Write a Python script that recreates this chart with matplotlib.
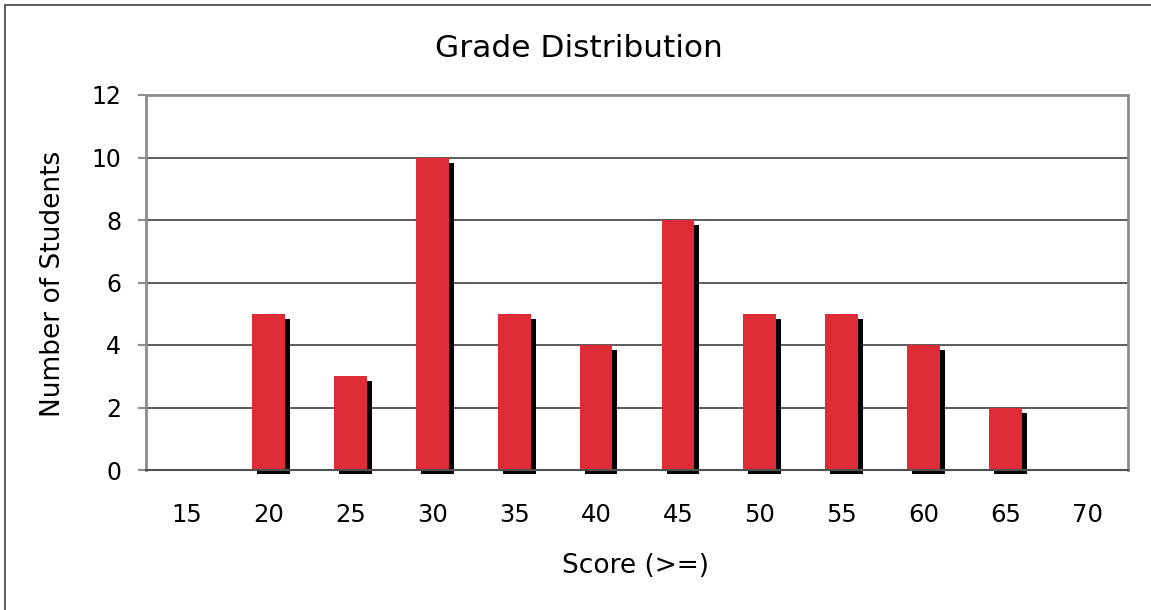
import matplotlib
matplotlib.use("Agg")
import matplotlib.pyplot as plt
import matplotlib.transforms as mtransforms
from matplotlib.patches import Rectangle

# Grade distribution data
scores = ["15", "20", "25", "30", "35", "40", "45", "50", "55", "60", "65", "70"]
students = [0, 5, 3, 10, 5, 4, 8, 5, 5, 4, 2, 0]
y_ticks = [0, 2, 4, 6, 8, 10, 12]

plt.rcParams["font.family"] = ["DejaVu Sans"]

W, H = 1151, 610
fig = plt.figure(figsize=(W / 100, H / 100), dpi=100)
fig.patch.set_facecolor("white")

# frame around the whole chart
fig.patches.append(Rectangle((5 / W, -0.1), 1.2, 1 - 5 / H + 0.1,
                             transform=fig.transFigure, fill=False,
                             edgecolor="#404040", linewidth=1.2))

ax = fig.add_axes([146 / W, 1 - 470 / H, (1128 - 146) / W, (470 - 95) / H])

x = list(range(len(scores)))
bar_w = 0.40

# drop shadow behind each bar, allowed to spill a little under the baseline
shadow = mtransforms.offset_copy(ax.transData, fig=fig, x=5, y=-5, units="dots")
shadow_clip = mtransforms.TransformedBbox(
    mtransforms.Bbox([[0, -4 / 375], [1.1, 1]]), ax.transAxes)
shadows = ax.bar(x, students, width=bar_w, color="black", transform=shadow,
                 zorder=2, linewidth=0)
for p in shadows:
    p.set_clip_box(shadow_clip)
ax.bar(x, students, width=bar_w, color="#DD2C35", zorder=3, linewidth=0)

ax.set_xlim(-0.5, len(scores) - 0.5)
ax.set_ylim(0, 12)
ax.set_yticks(y_ticks)
ax.set_xticks(x)
ax.set_xticklabels(scores)

ax.yaxis.grid(True, color="#404040", linewidth=1.2)
ax.set_axisbelow(True)

for side in ["left", "top", "right"]:
    ax.spines[side].set_color("#8c8c8c")
    ax.spines[side].set_linewidth(2)
ax.spines["bottom"].set_color("#505050")
ax.spines["bottom"].set_linewidth(1.5)
ax.spines["bottom"].set_zorder(4)

ax.tick_params(axis="y", length=6, width=1.5, color="#8c8c8c", pad=12,
               labelsize=17)
ax.tick_params(axis="x", length=0, pad=24, labelsize=17.5)

fig.text(579 / W, 1 - 57 / H, "Grade Distribution", fontsize=22.5,
         ha="center", va="baseline")
fig.text(636 / W, 1 - 573 / H, "Score (>=)", fontsize=19,
         ha="center", va="baseline")
fig.text(53 / W, 1 - 284 / H, "Number of Students", fontsize=19,
         rotation=90, ha="center", va="center")

fig.savefig("out.png", dpi=100)
